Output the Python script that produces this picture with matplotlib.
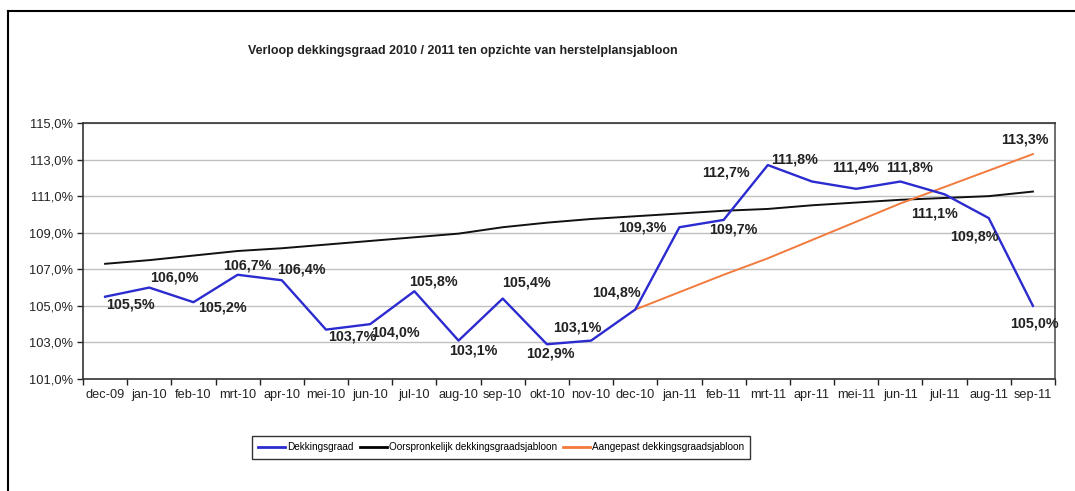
import numpy as np
import matplotlib
matplotlib.use("Agg")
import matplotlib.pyplot as plt
from matplotlib.lines import Line2D
from matplotlib.ticker import FuncFormatter, FixedLocator

plt.rcParams['font.family'] = ['Liberation Sans', 'DejaVu Sans']

months = ["dec-09", "jan-10", "feb-10", "mrt-10", "apr-10", "mei-10", "jun-10",
          "jul-10", "aug-10", "sep-10", "okt-10", "nov-10", "dec-10", "jan-11",
          "feb-11", "mrt-11", "apr-11", "mei-11", "jun-11", "jul-11", "aug-11", "sep-11"]

dekkingsgraad = [105.5, 106.0, 105.2, 106.7, 106.4, 103.7, 104.0, 105.8, 103.1, 105.4,
                 102.9, 103.1, 104.8, 109.3, 109.7, 112.7, 111.8, 111.4, 111.8, 111.1,
                 109.8, 105.0]

oorspronkelijk = [107.3, 107.5, 107.75, 108.0, 108.15, 108.35, 108.55, 108.75, 108.95, 109.3,
                  109.55, 109.75, 109.9, 110.05, 110.2, 110.3, 110.5, 110.65, 110.8, 110.9,
                  111.0, 111.25]

aangepast = [np.nan] * 12 + [104.8, 105.75, 106.7, 107.6, 108.6, 109.6, 110.6, 111.5,
                             112.4, 113.3]

y_ticks = [101, 103, 105, 107, 109, 111, 113, 115]

# label offsets (pixels) relative to each data point
label_offsets = [(25, -8), (25, 10), (29, -5), (10, 9), (20, 11), (26, -7), (25, -8),
                 (19, 10), (15, -10), (24, 16), (3, -9), (-14, 13), (-19, 17), (-37, 0),
                 (10, -10), (-42, -7), (-17, 22), (-1, 21), (9, 14), (-10, -19),
                 (-14, -18), (2, -18)]
orange_label_offset = (-8, 15)

W, H = 1075, 491
fig = plt.figure(figsize=(W / 100, H / 100), dpi=100)
fig.patch.set_facecolor("white")

# outer chart frame (top and left edges visible)
fig.add_artist(Line2D([8 / W, 1.0], [1 - 11 / H, 1 - 11 / H], transform=fig.transFigure,
                      color="black", lw=1.5))
fig.add_artist(Line2D([8 / W, 8 / W], [0, 1 - 11 / H], transform=fig.transFigure,
                      color="black", lw=1.5))

ax = fig.add_axes([83 / W, 1 - 379 / H, (1055 - 83) / W, (379 - 123) / H])
x = np.arange(len(months))

blue = "#2b2bd0"
orange = "#f27a3c"

ax.plot(x, oorspronkelijk, color="#111111", lw=1.4, label="Oorspronkelijk dekkingsgraadsjabloon", zorder=3)
ax.plot(x, aangepast, color=orange, lw=1.4, label="Aangepast dekkingsgraadsjabloon", zorder=3)
ax.plot(x, dekkingsgraad, color=blue, lw=1.7, label="Dekkingsgraad", zorder=4)

def fmt(v):
    return f"{v:.1f}".replace(".", ",") + "%"

for xi, v, off in zip(x, dekkingsgraad, label_offsets):
    ax.annotate(fmt(v), (xi, v), xytext=off, textcoords="offset pixels",
                ha="center", va="center", fontsize=10.3, fontweight="bold", color="#222222",
                zorder=5)
last = len(months) - 1
ax.annotate(fmt(aangepast[last]), (last, aangepast[last]), xytext=orange_label_offset,
            textcoords="offset pixels", ha="center", va="center", fontsize=10.3,
            fontweight="bold", color="#222222", zorder=5)

ax.set_xlim(-0.5, len(months) - 0.5)
ax.set_ylim(101, 115)
ax.set_yticks(y_ticks)
ax.yaxis.set_major_formatter(FuncFormatter(lambda v, p: f"{v:.1f}".replace(".", ",") + "%"))
ax.grid(axis="y", color="#c0c0c0", lw=1.0, zorder=0)
ax.set_axisbelow(True)

ax.xaxis.set_major_locator(FixedLocator(np.arange(-0.5, len(months), 1.0)))
ax.xaxis.set_minor_locator(FixedLocator(x))
ax.set_xticklabels([], minor=False)
ax.set_xticklabels(months, minor=True)
ax.tick_params(axis="x", which="major", length=4, width=1, color="#222222", direction="out")
ax.tick_params(axis="x", which="minor", length=0, pad=7, labelsize=9.2, labelcolor="#222222")
ax.tick_params(axis="y", length=4, width=1, color="#222222", labelsize=9.3,
               labelcolor="#222222", pad=3)

for s in ["left", "bottom", "top", "right"]:
    ax.spines[s].set_color("#333333")
    ax.spines[s].set_linewidth(1.2)
ax.spines["right"].set_color("#555555")

fig.text(463 / W, 1 - 51 / H, "Verloop dekkingsgraad 2010 / 2011 ten opzichte van herstelplansjabloon",
         ha="center", va="center", fontsize=9.0, fontweight="bold", color="#222222")

handles = [Line2D([], [], color=blue, lw=2), Line2D([], [], color="black", lw=2),
           Line2D([], [], color=orange, lw=2)]
labels = ["Dekkingsgraad", "Oorspronkelijk dekkingsgraadsjabloon", "Aangepast dekkingsgraadsjabloon"]
leg = fig.legend(handles, labels, loc="center", bbox_to_anchor=(501 / W, 1 - 447.5 / H),
                 ncol=3, fontsize=7.2, frameon=True, fancybox=False, handlelength=2.7,
                 handletextpad=0.2, columnspacing=0.6, borderpad=0.65, borderaxespad=0)
leg.get_frame().set_edgecolor("black")
leg.get_frame().set_linewidth(1.0)

fig.savefig("out.png", dpi=100, facecolor="white")
